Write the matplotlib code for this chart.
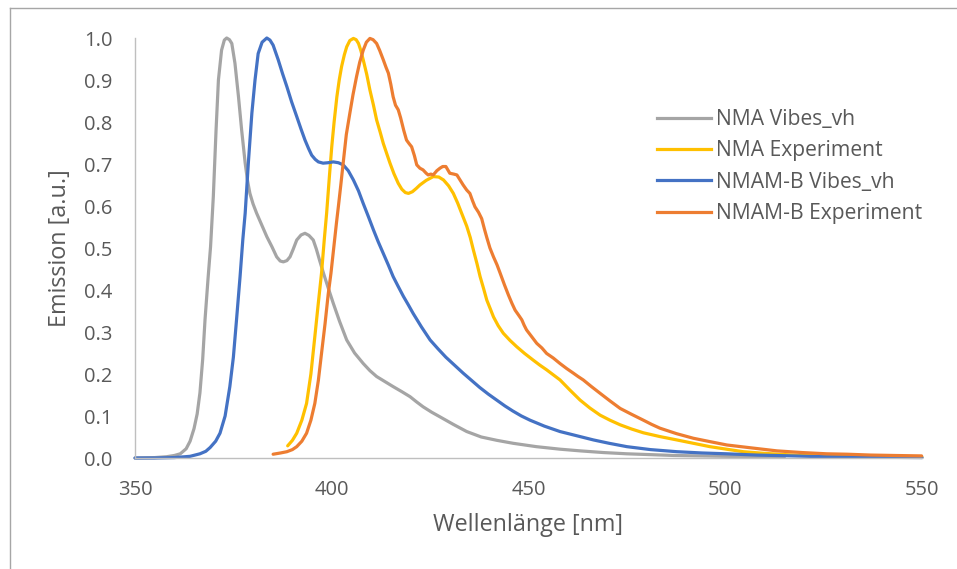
import matplotlib
matplotlib.use("Agg")
import matplotlib.pyplot as plt
from matplotlib.lines import Line2D

# ---- data (wavelength nm, normalised emission) ----
nma_vibes_x = [350, 355, 358, 360, 361.5, 363, 364, 365, 365.8, 366.5, 367.2,
               367.8, 368.6, 369.2, 369.9, 370.6, 371.2, 372.0, 372.7, 373.3,
               374.0, 374.6, 375.4, 376.3, 377.1, 378.0, 378.6, 379.2, 380.0,
               380.9, 382.2, 383.5, 384.8, 386.0, 386.9, 387.7, 388.6, 389.4,
               390.2, 391.1, 392.2, 393.2, 394.2, 395.3, 396.1, 396.9, 397.9,
               399.1, 400.4, 402.0, 403.8, 405.8, 408.0, 409.7, 411.4, 413.5,
               415.6, 417.8, 419.9, 421.5, 423.2, 425.4, 427.5, 430.9, 434.3,
               438.0, 442.0, 446.1, 452.0, 458.0, 463.1, 469.0, 475.0, 487.0,
               500.0, 515.0]
nma_vibes_y = [0.0, 0.001, 0.003, 0.006, 0.01, 0.022, 0.04, 0.07, 0.105, 0.155,
               0.235, 0.33, 0.432, 0.503, 0.622, 0.781, 0.90, 0.971, 0.995, 1.0,
               0.996, 0.987, 0.94, 0.86, 0.781, 0.702, 0.66, 0.63, 0.605, 0.583,
               0.555, 0.527, 0.503, 0.479, 0.469, 0.467, 0.47, 0.479, 0.497,
               0.519, 0.531, 0.535, 0.530, 0.519, 0.497, 0.471, 0.44, 0.405,
               0.368, 0.325, 0.281, 0.25, 0.225, 0.208, 0.194, 0.182, 0.17,
               0.158, 0.146, 0.134, 0.122, 0.109, 0.098, 0.08, 0.063, 0.05,
               0.042, 0.035, 0.027, 0.021, 0.017, 0.013, 0.01, 0.006, 0.004,
               0.002]

nma_exp_x = [388.8, 390.0, 391.1, 392.4, 393.6, 394.7, 395.7, 396.6, 397.4,
             398.1, 398.7, 399.4, 400.0, 400.6, 401.3, 401.9, 402.5, 403.2,
             403.8, 404.6, 405.5, 406.2, 406.8, 407.4, 408.0, 408.9, 409.7,
             410.6, 411.4, 412.3, 413.1, 414.0, 414.8, 415.8, 416.9, 417.8,
             418.7, 419.5, 420.5, 421.5, 422.4, 424.0, 425.8, 427.2, 428.4,
             429.7, 430.9, 432.0, 433.0, 434.3, 435.2, 436.0, 436.9, 437.7,
             438.6, 439.4, 440.3, 441.1, 442.3, 443.6, 445.3, 447.0, 449.0,
             451.2, 452.9, 454.6, 456.3, 458.0, 460.5, 463.1, 465.6, 468.2,
             470.7, 473.3, 476.2, 479.2, 483.4, 487.7, 491.9, 496.1, 500.3,
             504.6, 510.0, 517.3, 530.0, 550.0]
nma_exp_y = [0.029, 0.042, 0.059, 0.09, 0.13, 0.2, 0.289, 0.37, 0.44, 0.52,
             0.583, 0.67, 0.741, 0.80, 0.86, 0.90, 0.932, 0.96, 0.979, 0.994,
             0.999, 0.996, 0.987, 0.97, 0.948, 0.913, 0.876, 0.84, 0.805,
             0.776, 0.749, 0.724, 0.702, 0.677, 0.654, 0.64, 0.632, 0.630,
             0.634, 0.642, 0.65, 0.661, 0.67, 0.669, 0.662, 0.648, 0.630,
             0.607, 0.583, 0.552, 0.525, 0.495, 0.463, 0.432, 0.403, 0.376,
             0.355, 0.336, 0.315, 0.297, 0.28, 0.265, 0.249, 0.233, 0.221,
             0.21, 0.198, 0.186, 0.162, 0.138, 0.119, 0.102, 0.09, 0.079,
             0.069, 0.06, 0.051, 0.043, 0.035, 0.027, 0.021, 0.015, 0.011,
             0.007, 0.004, 0.002]

nmamb_vibes_x = [350, 355, 360, 364, 366.5, 368.0, 369.1, 370.5, 371.6, 372.9,
                 374.1, 375.0, 375.8, 376.7, 377.4, 378.0, 378.8, 379.7, 380.5,
                 381.3, 382.3, 383.5, 384.3, 385.1, 386.4, 387.5, 388.6, 389.8,
                 391.1, 392.2, 393.2, 394.1, 394.9, 395.8, 396.6, 397.8, 399.0,
                 400.4, 401.7, 402.9, 404.2, 405.5, 406.8, 408.0, 409.3, 410.6,
                 411.8, 413.1, 414.4, 415.6, 416.8, 418.2, 419.5, 420.7, 422.8,
                 425.0, 427.0, 429.0, 431.2, 433.4, 435.5, 437.6, 439.8, 441.9,
                 444.0, 446.0, 448.2, 450.4, 454.0, 458.0, 463.1, 466.5, 470.5,
                 475.0, 481.0, 487.7, 494.0, 500.4, 508.0, 517.0, 525.0, 535.0,
                 550.0]
nmamb_vibes_y = [0.0, 0.0, 0.001, 0.004, 0.01, 0.016, 0.025, 0.04, 0.059, 0.1,
                 0.17, 0.24, 0.329, 0.432, 0.52, 0.583, 0.702, 0.821, 0.90,
                 0.963, 0.99, 1.0, 0.995, 0.983, 0.948, 0.915, 0.884, 0.848,
                 0.813, 0.783, 0.757, 0.737, 0.721, 0.711, 0.705, 0.702, 0.703,
                 0.705, 0.703, 0.698, 0.684, 0.662, 0.636, 0.606, 0.575, 0.543,
                 0.515, 0.487, 0.459, 0.432, 0.41, 0.385, 0.364, 0.344, 0.312,
                 0.281, 0.26, 0.24, 0.221, 0.202, 0.185, 0.168, 0.152, 0.138,
                 0.124, 0.112, 0.1, 0.09, 0.076, 0.063, 0.051, 0.043, 0.035,
                 0.027, 0.02, 0.015, 0.012, 0.01, 0.007, 0.005, 0.003, 0.002,
                 0.001]

nmamb_exp_x = [385.1, 387.0, 388.6, 390.0, 391.1, 392.4, 393.6, 394.7, 395.7,
               396.6, 397.4, 398.3, 399.1, 399.8, 400.5, 401.2, 401.7, 402.3,
               402.9, 403.7, 404.6, 405.4, 406.3, 407.1, 408.0, 408.8, 409.7,
               410.5, 411.4, 412.2, 413.1, 413.8, 414.4, 415.0, 415.6, 416.2,
               416.9, 417.5, 418.3, 419.0, 419.7, 420.3, 421.0, 421.6, 422.4,
               423.2, 424.0, 424.5, 425.2, 425.8, 426.7, 427.5, 428.2, 429.0,
               429.5, 430.0, 431.0, 431.8, 432.6, 433.4, 434.3, 435.1, 435.8,
               436.4, 437.3, 438.1, 438.8, 439.4, 440.2, 441.1, 442.0, 442.8,
               443.9, 444.9, 445.8, 446.6, 447.5, 448.3, 448.9, 449.5, 450.8,
               452.1, 453.4, 454.6, 456.3, 458.0, 459.7, 461.4, 462.6, 463.9,
               466.0, 468.2, 470.7, 473.3, 476.2, 479.2, 481.3, 483.4, 487.6,
               491.9, 496.1, 500.4, 506.7, 513.1, 519.5, 525.8, 531.0, 537.0,
               543.0, 549.9]
nmamb_exp_y = [0.009, 0.012, 0.015, 0.02, 0.027, 0.04, 0.059, 0.09, 0.13, 0.185,
               0.249, 0.32, 0.39, 0.44, 0.50, 0.56, 0.60, 0.65, 0.702, 0.77,
               0.821, 0.865, 0.908, 0.942, 0.971, 0.99, 0.999, 0.996, 0.987,
               0.97, 0.948, 0.93, 0.916, 0.89, 0.86, 0.84, 0.829, 0.81, 0.78,
               0.757, 0.748, 0.741, 0.72, 0.698, 0.69, 0.686, 0.678, 0.674,
               0.676, 0.674, 0.684, 0.690, 0.694, 0.694, 0.686, 0.678, 0.676,
               0.674, 0.662, 0.650, 0.638, 0.630, 0.612, 0.598, 0.585, 0.570,
               0.545, 0.525, 0.500, 0.479, 0.460, 0.440, 0.412, 0.388, 0.368,
               0.352, 0.340, 0.329, 0.316, 0.305, 0.289, 0.273, 0.262, 0.249,
               0.238, 0.225, 0.213, 0.202, 0.194, 0.186, 0.17, 0.154, 0.136,
               0.118, 0.104, 0.09, 0.08, 0.071, 0.058, 0.047, 0.039, 0.031,
               0.024, 0.017, 0.013, 0.01, 0.009, 0.007, 0.006, 0.005]

series = [
    ("NMA Vibes_vh", nma_vibes_x, nma_vibes_y, "#A5A5A5"),
    ("NMA Experiment", nma_exp_x, nma_exp_y, "#FFC000"),
    ("NMAM-B Vibes_vh", nmamb_vibes_x, nmamb_vibes_y, "#4472C4"),
    ("NMAM-B Experiment", nmamb_exp_x, nmamb_exp_y, "#ED7D31"),
]
x_ticks = [350, 400, 450, 500, 550]
y_ticks = [0.0, 0.1, 0.2, 0.3, 0.4, 0.5, 0.6, 0.7, 0.8, 0.9, 1.0]

plt.rcParams["font.family"] = ["Open Sans", "DejaVu Sans"]
TXT = "#595959"

W, H = 957, 569
fig = plt.figure(figsize=(W / 100, H / 100), dpi=100)
ax = fig.add_axes([135 / W, 1 - 458 / H, (922 - 135) / W, (458 - 38) / H])

for name, xs, ys, col in series:
    ax.plot(xs, ys, color=col, lw=2.3, label=name, solid_capstyle="round",
            solid_joinstyle="round", clip_on=False)

ax.set_xlim(350, 550)
ax.set_ylim(0, 1.0)
ax.set_xticks(x_ticks)
ax.set_yticks(y_ticks)
ax.set_yticklabels([f"{v:.1f}" for v in y_ticks])
ax.tick_params(length=0, labelsize=14.5, colors=TXT)
ax.tick_params(axis="x", pad=16)
ax.tick_params(axis="y", pad=16)
for s in ("top", "right"):
    ax.spines[s].set_visible(False)
for s in ("left", "bottom"):
    ax.spines[s].set_color("#BFBFBF")
    ax.spines[s].set_linewidth(1.0)

ax.set_xlabel("Wellenlänge [nm]", fontsize=16.8, color=TXT, va="center")
ax.set_ylabel("Emission [a.u.]", fontsize=16.8, color=TXT, va="center")
ax.xaxis.set_label_coords((528 - 135) / 787, (458 - 525) / 420)
ax.yaxis.set_label_coords((60 - 135) / 787, (458 - 248) / 420)

handles = [Line2D([], [], color=c, lw=2.3) for _, _, _, c in series]
labels = [n for n, _, _, _ in series]
fig.legend(handles, labels, loc="upper left",
           bbox_to_anchor=(638 / W, 1 - 90 / H), frameon=False,
           fontsize=15.2, labelcolor=TXT, handlelength=2.55,
           handletextpad=0.25, labelspacing=0.49)

# outer chart frame (top and left edges visible)
fig.add_artist(Line2D([10 / W, 1], [1 - 8 / H, 1 - 8 / H], color="#A6A6A6",
                      lw=1.0, transform=fig.transFigure))
fig.add_artist(Line2D([10 / W, 10 / W], [0, 1 - 8 / H], color="#A6A6A6",
                      lw=1.0, transform=fig.transFigure))

fig.savefig("out.png", dpi=100)
